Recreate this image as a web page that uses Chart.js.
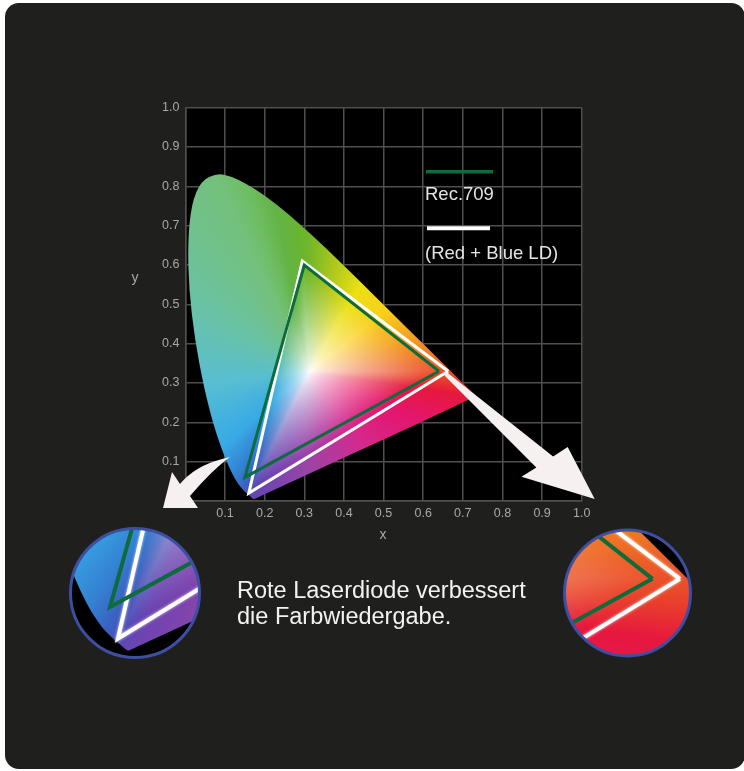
<!DOCTYPE html>
<html>
<head>
<meta charset="utf-8">
<script src="https://cdn.jsdelivr.net/npm/chart.js@4.4.0/dist/chart.umd.min.js"></script>
<style>
  html, body { margin: 0; padding: 0; background: #fff; }
  body { width: 744px; height: 771px; position: relative; overflow: hidden; }
  #card { position: absolute; left: 5px; top: 3px; width: 740px; height: 766px; background: #1f1f1d; border-radius: 14px; }
  #wrap { position: absolute; left: 0; top: 0; width: 744px; height: 771px; }
  #caption { position: absolute; left: 237px; top: 577px; color: #f2f2f2;
             font: 23.5px/26px "Liberation Sans", Arial, sans-serif; white-space: nowrap; }
</style>
</head>
<body>
<div id="card"></div>
<div id="wrap"><canvas id="cie"></canvas></div>
<div id="caption">Rote Laserdiode verbessert<br>die Farbwiedergabe.</div>
<script>
// Spektralzug (CIE 1931)
const locusX = [0.1741, 0.1738, 0.1733, 0.1726, 0.1714, 0.1689, 0.1644, 0.1611, 0.1566, 0.1510,
                0.1440, 0.1355, 0.1241, 0.1096, 0.0913, 0.0687, 0.0454, 0.0235, 0.0090, 0.0060,
                0.0150, 0.0400, 0.0800, 0.1142, 0.1547, 0.1929, 0.2296, 0.2658, 0.3016, 0.3373,
                0.3731, 0.4441, 0.5125, 0.5752, 0.6270, 0.6658, 0.6915, 0.7079, 0.7190, 0.7300, 0.7347];
const locusY = [0.0050, 0.0049, 0.0048, 0.0048, 0.0051, 0.0069, 0.0109, 0.0138, 0.0177, 0.0227,
                0.0297, 0.0399, 0.0578, 0.0868, 0.1327, 0.2007, 0.2950, 0.4127, 0.5384, 0.6548,
                0.7550, 0.8150, 0.8330, 0.8262, 0.8059, 0.7816, 0.7543, 0.7243, 0.6923, 0.6589,
                0.6245, 0.5547, 0.4866, 0.4242, 0.3725, 0.3340, 0.3083, 0.2920, 0.2809, 0.2700, 0.2653];

// Farbraeume (Dreiecke, geschlossen)
const rec709X = [0.64, 0.30, 0.15, 0.64];
const rec709Y = [0.33, 0.60, 0.06, 0.33];
const ldX = [0.663, 0.295, 0.16, 0.663];
const ldY = [0.33, 0.61, 0.02, 0.33];
const seriesNames = ['Spektralzug', 'Rec.709', '(Red + Blue LD)'];

// Achsen
const tickValues = [0, 0.1, 0.2, 0.3, 0.4, 0.5, 0.6, 0.7, 0.8, 0.9, 1.0];
const tickLabels = ['', '0.1', '0.2', '0.3', '0.4', '0.5', '0.6', '0.7', '0.8', '0.9', '1.0'];

// Weisspunkt + Farben am Rand
const whitePoint = [0.3127, 0.329];
const rimX = [0.0082, 0.0743, 0.1547, 0.2296, 0.3016, 0.3731, 0.4441, 0.5125, 0.5752, 0.6270, 0.6915,
              0.7347, 0.60, 0.45, 0.30, 0.1741, 0.1566, 0.1440, 0.1241, 0.0913, 0.0454];
const rimY = [0.5384, 0.8338, 0.8059, 0.7543, 0.6923, 0.6245, 0.5547, 0.4866, 0.4242, 0.3725, 0.3083,
              0.2653, 0.2028, 0.1331, 0.0634, 0.0050, 0.0177, 0.0297, 0.0578, 0.1327, 0.2950];
const rimColor = ['#6bc2a2', '#74c07c', '#6ebd62', '#62b445', '#6cb62a', '#a8c61e', '#ece012', '#f8d01b',
                  '#f5a41f', '#f07a24', '#e9402c', '#e6183e', '#e4166e', '#d42a8e', '#9a44a8', '#6a44b2',
                  '#4c52b8', '#3a62c2', '#3480d2', '#38aae6', '#58bed2'];

// Pfeile (in x/y-Koordinaten)
const arrowLeft = [[0.1125, 0.1120], [0.0671, 0.0789], [0.0116, 0.0127], [0.0318, -0.0178],
                   [-0.0565, -0.0178], [-0.0338, 0.0738], [-0.0136, 0.0433], [0.0242, 0.0891],
                   [0.0923, 0.1069]];
const arrowRight = [[0.6604, 0.3270], [0.9279, 0.1132], [0.9647, 0.1374], [1.0328, 0.0051],
                    [0.8480, 0.0618], [0.8855, 0.0852], [0.6538, 0.3193]];

// Lupen: Mittelpunkt, Radius, Zoom, betrachteter Punkt
const lenses = [
  { cx: 135, cy: 593, r: 64.5, zoom: 2, atX: 0.1815, atY: 0.0779 },
  { cx: 627.5, cy: 593, r: 63, zoom: 3, atX: 0.619, atY: 0.318 }
];

const FONT = '"Liberation Sans", Arial, sans-serif';
const N = 1440;

function hexToRgb(h) {
  const n = parseInt(h.slice(1), 16);
  return [(n >> 16) & 255, (n >> 8) & 255, n & 255];
}

function pts(xs, ys) {
  return xs.map((x, i) => ({ x: x, y: ys[i] }));
}

// Abstand Weisspunkt -> Polygonrand je Winkel
function rayTable(xs, ys) {
  const wx = whitePoint[0], wy = whitePoint[1];
  const edge = new Float32Array(N);
  const n = xs.length;
  for (let k = 0; k < N; k++) {
    const ang = -Math.PI + (k + 0.5) * 2 * Math.PI / N;
    const dx = Math.cos(ang), dy = Math.sin(ang);
    let best = Infinity;
    for (let i = 0; i < n; i++) {
      const j = (i + 1) % n;
      const Px = xs[i] - wx, Py = ys[i] - wy;
      const ex = xs[j] - xs[i], ey = ys[j] - ys[i];
      const det = ex * dy - dx * ey;
      if (Math.abs(det) < 1e-12) continue;
      const t = (ex * Py - Px * ey) / det;
      const s = (dx * Py - dy * Px) / det;
      if (t > 0 && s >= 0 && s <= 1 && t < best) best = t;
    }
    edge[k] = best;
  }
  return edge;
}

// Farbbild fuer die Flaeche berechnen
let colourCache = null;
function colourImage(chart) {
  const a = chart.chartArea;
  const key = [a.left, a.top, a.width, a.height].join(',');
  if (colourCache && colourCache.key === key) return colourCache.img;

  const sx = chart.scales.x, sy = chart.scales.y;
  const wx = whitePoint[0], wy = whitePoint[1];
  const triEdge = rayTable(ldX.slice(0, 3), ldY.slice(0, 3));

  // Farbton je Winkel
  const rim = rimX.map((x, i) => ({ a: Math.atan2(rimY[i] - wy, x - wx), c: hexToRgb(rimColor[i]) }))
                  .sort((p, q) => p.a - q.a);
  const hue = [];
  for (let k = 0; k < N; k++) {
    const ang = -Math.PI + (k + 0.5) * 2 * Math.PI / N;
    let col = rim[0].c;
    for (let i = 0; i < rim.length; i++) {
      const p = rim[i], q = rim[(i + 1) % rim.length];
      let qa = q.a, aa = ang;
      if (i === rim.length - 1) { qa += 2 * Math.PI; if (aa < p.a) aa += 2 * Math.PI; }
      if (aa >= p.a && aa < qa) {
        const f = (aa - p.a) / (qa - p.a);
        col = [0, 1, 2].map(m => p.c[m] + (q.c[m] - p.c[m]) * f);
        break;
      }
    }
    hue.push(col);
  }

  const w = Math.ceil(a.width), h = Math.ceil(a.height);
  const cv = document.createElement('canvas');
  cv.width = w; cv.height = h;
  const c = cv.getContext('2d');
  const im = c.createImageData(w, h);
  for (let j = 0; j < h; j++) {
    const y = sy.getValueForPixel(a.top + j + 0.5);
    for (let i = 0; i < w; i++) {
      const x = sx.getValueForPixel(a.left + i + 0.5);
      const dx = x - wx, dy = y - wy;
      let k = Math.floor((Math.atan2(dy, dx) + Math.PI) / (2 * Math.PI) * N);
      if (k >= N) k = N - 1;
      let t = Math.min(1, Math.hypot(dx, dy) / triEdge[k] / 0.95);
      t = Math.pow(t, 0.8);
      const col = hue[k];
      const o = (j * w + i) * 4;
      im.data[o] = 255 + (col[0] - 255) * t;
      im.data[o + 1] = 255 + (col[1] - 255) * t;
      im.data[o + 2] = 255 + (col[2] - 255) * t;
      im.data[o + 3] = 255;
    }
  }
  c.putImageData(im, 0, 0);
  colourCache = { key: key, img: cv };
  return cv;
}

// Umriss, geglaettet ueber Mittelpunkte
function locusPath(chart, ctx) {
  const p = chart.getDatasetMeta(0).data;
  const n = p.length;
  const mid = (i) => [(p[i].x + p[(i + 1) % n].x) / 2, (p[i].y + p[(i + 1) % n].y) / 2];
  ctx.beginPath();
  const m0 = mid(n - 1);
  ctx.moveTo(m0[0], m0[1]);
  for (let i = 0; i < n; i++) {
    const m = mid(i);
    ctx.quadraticCurveTo(p[i].x, p[i].y, m[0], m[1]);
  }
  ctx.closePath();
}

function toPx(chart, p) {
  return [chart.scales.x.getPixelForValue(p[0]), chart.scales.y.getPixelForValue(p[1])];
}

function drawArrows(chart) {
  const ctx = chart.ctx;
  ctx.save();
  ctx.fillStyle = '#f6f0f0';
  // links, gebogen
  const L = arrowLeft.map(p => toPx(chart, p));
  ctx.beginPath();
  ctx.moveTo(L[0][0], L[0][1]);
  ctx.quadraticCurveTo(L[1][0], L[1][1], L[2][0], L[2][1]);
  ctx.lineTo(L[3][0], L[3][1]);
  ctx.lineTo(L[4][0], L[4][1]);
  ctx.lineTo(L[5][0], L[5][1]);
  ctx.lineTo(L[6][0], L[6][1]);
  ctx.quadraticCurveTo(L[7][0], L[7][1], L[8][0], L[8][1]);
  ctx.closePath();
  ctx.fill();
  // rechts, gerade
  const R = arrowRight.map(p => toPx(chart, p));
  ctx.beginPath();
  R.forEach((p, i) => (i ? ctx.lineTo(p[0], p[1]) : ctx.moveTo(p[0], p[1])));
  ctx.closePath();
  ctx.fill();
  ctx.restore();
}

function drawLegend(chart) {
  const ctx = chart.ctx;
  const ds = chart.data.datasets;
  const items = [
    { ds: ds[1], lineY: 171.7, lineX: [426, 493], w: 3.5, textY: 195 },
    { ds: ds[2], lineY: 228.3, lineX: [427, 490], w: 4, textY: 253.5 }
  ];
  ctx.save();
  items.forEach(it => {
    ctx.strokeStyle = it.ds.borderColor;
    ctx.lineWidth = it.w;
    ctx.beginPath();
    ctx.moveTo(it.lineX[0], it.lineY);
    ctx.lineTo(it.lineX[1], it.lineY);
    ctx.stroke();
    ctx.fillStyle = '#e4e4e4';
    ctx.font = '18.5px ' + FONT;
    ctx.textBaseline = 'middle';
    ctx.fillText(it.ds.label, 425, it.textY);
  });
  ctx.fillStyle = '#a8a8a8';
  ctx.font = '14px ' + FONT;
  ctx.textAlign = 'center';
  ctx.fillText('x', 383, 535);
  ctx.fillText('y', 135, 278);
  ctx.restore();
}

function drawLens(chart, lens) {
  const ctx = chart.ctx;
  const a = chart.chartArea;
  const img = colourImage(chart);
  const px = chart.scales.x.getPixelForValue(lens.atX);
  const py = chart.scales.y.getPixelForValue(lens.atY);
  ctx.save();
  ctx.beginPath();
  ctx.arc(lens.cx, lens.cy, lens.r, 0, Math.PI * 2);
  ctx.clip();
  ctx.fillStyle = '#000';
  ctx.fillRect(lens.cx - lens.r, lens.cy - lens.r, lens.r * 2, lens.r * 2);
  ctx.translate(lens.cx, lens.cy);
  ctx.scale(lens.zoom, lens.zoom);
  ctx.translate(-px, -py);
  ctx.save();
  locusPath(chart, ctx);
  ctx.clip();
  ctx.drawImage(img, a.left, a.top);
  ctx.restore();
  for (let i = chart.data.datasets.length - 1; i >= 1; i--) {
    const ds = chart.data.datasets[i];
    const meta = chart.getDatasetMeta(i);
    ctx.beginPath();
    meta.data.forEach((p, j) => (j ? ctx.lineTo(p.x, p.y) : ctx.moveTo(p.x, p.y)));
    ctx.lineWidth = 4 / lens.zoom;
    ctx.lineJoin = 'miter';
    ctx.strokeStyle = ds.borderColor;
    if (ds.borderColor === '#ffffff') { ctx.shadowColor = 'rgba(255,255,255,0.8)'; ctx.shadowBlur = 3; }
    else { ctx.shadowBlur = 0; }
    ctx.stroke();
  }
  ctx.restore();
  ctx.save();
  ctx.beginPath();
  ctx.arc(lens.cx, lens.cy, lens.r, 0, Math.PI * 2);
  ctx.strokeStyle = '#3c4fa2';
  ctx.lineWidth = 3;
  ctx.stroke();
  ctx.restore();
}

const ciePlugin = {
  id: 'cie',
  beforeDraw(chart) {
    const { ctx, chartArea: a } = chart;
    ctx.save();
    ctx.fillStyle = '#000';
    ctx.fillRect(a.left, a.top, a.width, a.height);
    ctx.restore();
  },
  beforeDatasetsDraw(chart) {
    const { ctx, chartArea: a } = chart;
    const img = colourImage(chart);
    ctx.save();
    locusPath(chart, ctx);
    ctx.clip();
    ctx.drawImage(img, a.left, a.top);
    ctx.restore();
  },
  afterDatasetsDraw(chart) {
    drawArrows(chart);
  },
  afterDraw(chart) {
    drawLegend(chart);
    lenses.forEach(l => drawLens(chart, l));
  }
};

function axis(isX) {
  return {
    type: 'linear',
    min: 0,
    max: 1,
    afterBuildTicks(scale) { scale.ticks = tickValues.map(v => ({ value: v })); },
    afterFit(scale) { if (isX) scale.height = 40; else scale.width = 50; },
    ticks: {
      autoSkip: false,
      maxRotation: 0,
      padding: isX ? 5 : 6,
      color: '#a8a8a8',
      font: { family: FONT, size: 12.5 },
      callback: (v, i) => tickLabels[i]
    },
    grid: { color: '#4f4f4f', lineWidth: 1.5, drawTicks: false },
    border: { color: '#4f4f4f', width: 1.5 }
  };
}

new Chart(document.getElementById('cie'), {
  type: 'scatter',
  data: {
    datasets: [
      { label: seriesNames[0], data: pts(locusX, locusY), showLine: false, pointRadius: 0 },
      { label: seriesNames[1], data: pts(rec709X, rec709Y), showLine: true, pointRadius: 0,
        borderColor: '#0d6b3c', borderWidth: 3, borderJoinStyle: 'miter', tension: 0 },
      { label: seriesNames[2], data: pts(ldX, ldY), showLine: true, pointRadius: 0,
        borderColor: '#ffffff', borderWidth: 3, borderJoinStyle: 'miter', tension: 0 }
    ]
  },
  options: {
    responsive: true,
    maintainAspectRatio: false,
    devicePixelRatio: 1,
    animation: false,
    events: [],
    layout: { padding: { left: 135.4, right: 162.3, top: 107.7, bottom: 230 } },
    plugins: { legend: { display: false }, tooltip: { enabled: false } },
    scales: { x: axis(true), y: axis(false) }
  },
  plugins: [ciePlugin]
});
</script>
</body>
</html>
